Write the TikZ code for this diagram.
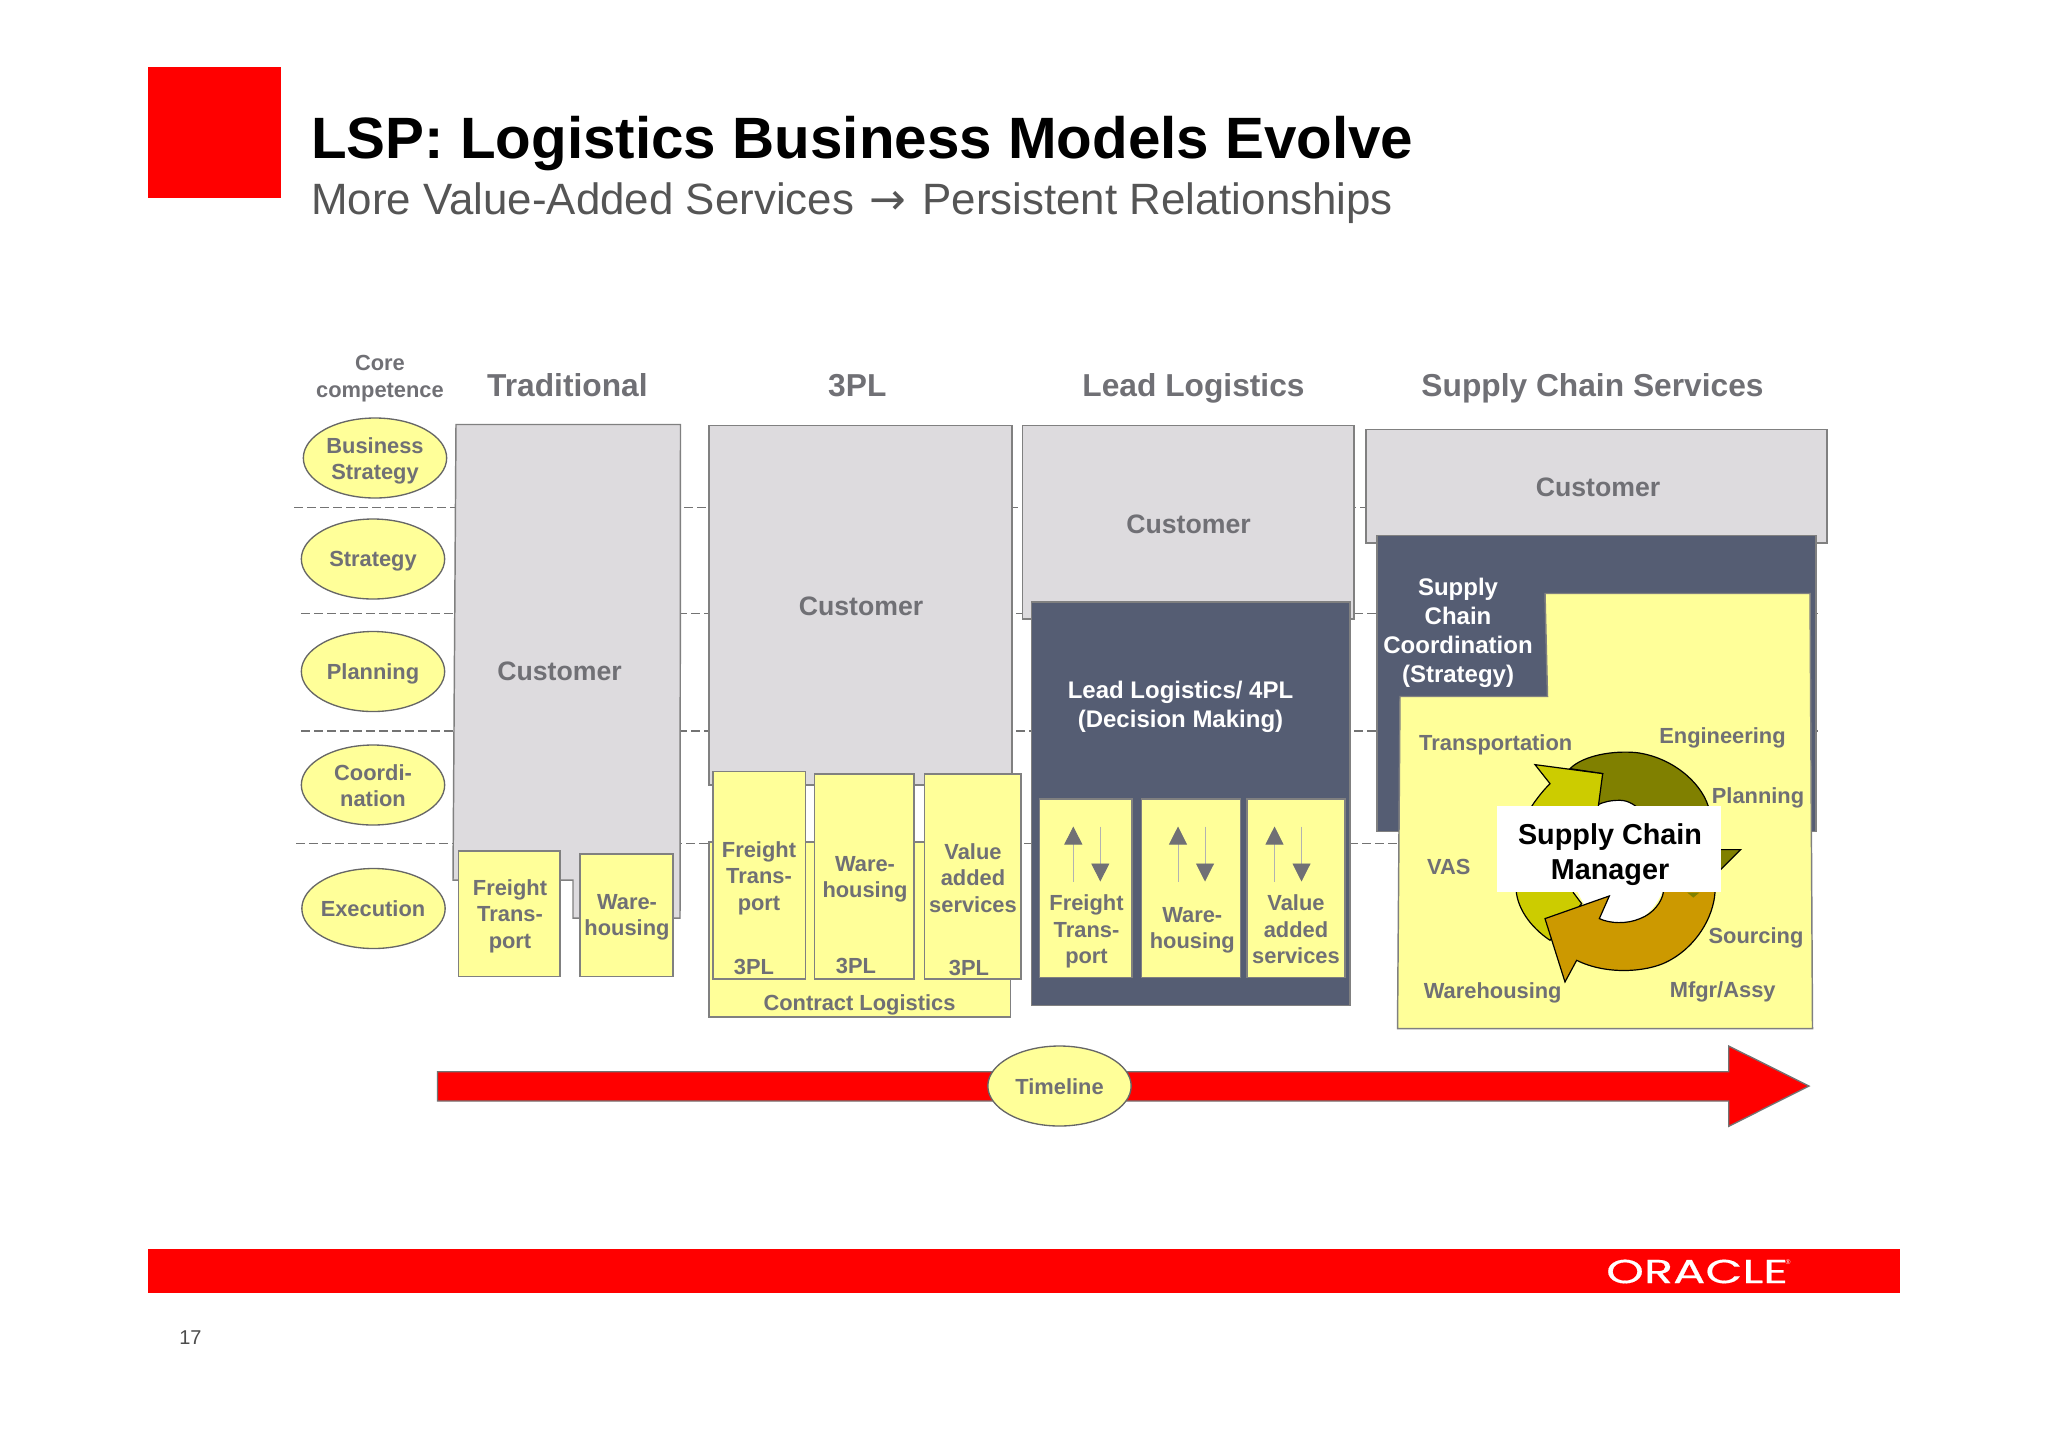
\documentclass[tikz,border=0pt]{standalone}
\usepackage{fontspec}
\setmainfont{Liberation Sans}
\newfontfamily\logofont[FakeBold=0.4]{Poppins}
\newfontfamily\arrowfont{DejaVu Sans}
\usepackage{tikz}
\usetikzlibrary{arrows.meta,shapes.geometric}

\definecolor{oraclered}{RGB}{255,0,0}
\definecolor{lblgray}{RGB}{112,112,117}
\definecolor{subgray}{RGB}{85,85,85}
\definecolor{custgray}{RGB}{221,219,222}
\definecolor{edgegray}{RGB}{128,128,128}
\definecolor{darkslate}{RGB}{85,93,115}
\definecolor{paleyellow}{RGB}{255,255,153}
\definecolor{ringolive}{RGB}{128,128,0}
\definecolor{ringlime}{RGB}{204,204,0}
\definecolor{ringamber}{RGB}{204,153,0}

\tikzset{
  lbl/.style={inner sep=0.75pt,align=center,text=lblgray,font=\fontsize{16.4}{19.8}\selectfont\bfseries},
  headlbl/.style={anchor=base,inner sep=0.75pt,align=center,text=lblgray,font=\fontsize{23.8}{28}\selectfont\bfseries},
  custlbl/.style={inner sep=0.75pt,align=center,text=lblgray,font=\fontsize{20}{24}\selectfont\bfseries},
  darklbl/.style={inner sep=0.75pt,align=center,text=white,font=\fontsize{18}{21.7}\selectfont\bfseries},
  level/.style={ellipse,draw=black!60,line width=1pt,fill=paleyellow,minimum width=107.5pt,minimum height=60pt,inner sep=0pt},
  custbox/.style={draw=edgegray,line width=1.1pt,fill=custgray},
  darkbox/.style={draw=edgegray,line width=1.1pt,fill=darkslate},
  yelbox/.style={draw=edgegray,line width=1.1pt,fill=paleyellow},
  dashline/.style={draw=black!55,line width=0.9pt,dash pattern=on 6.5pt off 3.25pt},
  flowline/.style={draw=black!30,line width=0.7pt,-{Triangle[length=13.5pt,width=13.5pt,color=lblgray]}},
  ring/.style={draw=black,line width=0.9pt}
}

\begin{document}
\begin{tikzpicture}[x=0.75pt,y=0.75pt,yscale=-1,xscale=1]
\useasboundingbox (0,-1) rectangle (2048,1446);

%Heading
\fill [oraclered] (148,66) rectangle (281,196.5);
\node (title) at (311,157.5) [anchor=base west,inner sep=0pt,font=\fontsize{43.75}{48}\selectfont\bfseries] {LSP: Logistics Business Models Evolve};
\node (subtitle) at (311,213.5) [anchor=base west,inner sep=0pt,text=subgray,font=\fontsize{32.9}{38}\selectfont] {More Value-Added Services \makebox[1em]{\arrowfont →} Persistent Relationships};

%Level separators
\coordinate (sep1l) at (294,506.7);
\coordinate (sep1r) at (1818,506.7);
\coordinate (sep2l) at (301,612.5);
\coordinate (sep2r) at (1818,612.5);
\coordinate (sep3l) at (301,730);
\coordinate (sep3r) at (1818,730);
\coordinate (sep4l) at (296,842.5);
\coordinate (sep4r) at (1810,842.5);
\draw [dashline] (sep1l) -- (sep1r);
\draw [dashline] (sep2l) -- (sep2r);
\draw [dashline] (sep3l) -- (sep3r);
\draw [dashline] (sep4l) -- (sep4r);

% Text Node
\node (core) at (380,377.5) [lbl] {Core\\competence};
\node (headtrad) at (567.4,395.5) [headlbl] {Traditional};
\node (head3pl) at (857.3,395.5) [headlbl] {3PL};
\node (headlead) at (1193.5,395.5) [headlbl] {Lead Logistics};
\node (headsupply) at (1592.5,395.5) [headlbl] {Supply Chain Services};

%Level ellipses
\node (lvlbiz) at (375,457) [level] {};
\node (txtbiz) at (375,460) [lbl] {Business\\Strategy};
\node (lvlstrat) at (373,558) [level] {};
\node (txtstrat) at (373,559.8) [lbl] {Strategy};
\node (lvlplan) at (373,670.5) [level] {};
\node (txtplan) at (373,673) [lbl] {Planning};
\node (lvlcoord) at (373,784) [level] {};
\node (txtcoord) at (373,784.5) [lbl] {Coordi-\\nation};
\node (lvlexec) at (373.5,907.5) [level] {};
\node (txtexec) at (373,908) [lbl] {Execution};

%Traditional
\draw [custbox] (456,423.5) -- (680.5,423.5) -- (680,917) -- (573,917) -- (573,879) -- (453,879) -- cycle;
\node (tradcust) at (559.5,670) [custlbl] {Customer};
\draw [yelbox] (458.5,850) rectangle (560,975.5);
\node (tradfreight) at (510,915) [lbl] {Freight\\Trans-\\port};
\draw [yelbox] (580,853) rectangle (673,975.5);
\node (tradware) at (627,916) [lbl] {Ware-\\housing};

%3PL
\draw [custbox] (709,424.5) rectangle (1012,784);
\node (tplcust) at (861,605.5) [custlbl] {Customer};
\draw [yelbox] (709,841) rectangle (1010.5,1016);
\node (contract) at (859.5,1004) [lbl] {Contract Logistics};
\draw [yelbox] (713,770.5) rectangle (805.5,978);
\node (tplfreight) at (759,877) [lbl] {Freight\\Trans-\\port};
\node (tpl1) at (754,965.5) [lbl] {3PL};
\draw [yelbox] (814.6,773) rectangle (914,978);
\node (tplware) at (865,878) [lbl] {Ware-\\housing};
\node (tpl2) at (856,964.5) [lbl] {3PL};
\draw [yelbox] (924.5,773) rectangle (1021,978);
\node (tplvalue) at (973,877) [lbl] {Value\\added\\services};
\node (tpl3) at (969,966.5) [lbl] {3PL};

%Lead Logistics
\draw [custbox] (1022.5,424.5) rectangle (1354,618);
\node (leadcust) at (1188.5,523.5) [custlbl] {Customer};
\draw [darkbox] (1031.5,601) rectangle (1350,1004.5);
\node (leadtext) at (1180.5,705.5) [darklbl] {Lead Logistics/ 4PL\\(Decision Making)};
\draw [yelbox] (1039.5,798) rectangle (1132,976.5);
\node (leadfreight) at (1086.5,930.5) [lbl] {Freight\\Trans-\\port};
\draw [yelbox] (1141.5,798) rectangle (1240.5,976.5);
\node (leadware) at (1192.3,929.5) [lbl] {Ware-\\housing};
\draw [yelbox] (1247,798) rectangle (1345,976.5);
\node (leadvalue) at (1296,928.5) [lbl] {Value\\added\\services};

%Flow arrows
\coordinate (up1a) at (1073.3,880.5);
\coordinate (up1b) at (1073.3,825.5);
\coordinate (dn1a) at (1100.3,825.5);
\coordinate (dn1b) at (1100.3,880.5);
\coordinate (up2a) at (1178,880.5);
\coordinate (up2b) at (1178,825.5);
\coordinate (dn2a) at (1205,825.5);
\coordinate (dn2b) at (1205,880.5);
\coordinate (up3a) at (1274.5,880.5);
\coordinate (up3b) at (1274.5,825.5);
\coordinate (dn3a) at (1301.5,825.5);
\coordinate (dn3b) at (1301.5,880.5);
\draw [flowline] (up1a) -- (up1b);
\draw [flowline] (dn1a) -- (dn1b);
\draw [flowline] (up2a) -- (up2b);
\draw [flowline] (dn2a) -- (dn2b);
\draw [flowline] (up3a) -- (up3b);
\draw [flowline] (dn3a) -- (dn3b);

%Supply Chain Services
\draw [custbox] (1366,428.5) rectangle (1827,542);
\node (supcust) at (1598,486.5) [custlbl] {Customer};
\draw [darkbox] (1377,534.5) rectangle (1816,830.5);
\node (suptext) at (1458,632) [darklbl] {Supply\\Chain\\Coordination\\(Strategy)};
\draw [yelbox] (1545,592.5) -- (1810,592.5) -- (1812.5,1027.5) -- (1397.5,1027.5) -- (1400,695.5) -- (1547.5,695.5) -- cycle;

% Text Node
\node (ltrans) at (1495.7,744) [lbl] {Transportation};
\node (leng) at (1722.5,736.5) [lbl] {Engineering};
\node (lplan) at (1758,796.5) [lbl] {Planning};
\node (lvas) at (1448.7,866) [lbl] {VAS};
\node (lsrc) at (1756,937) [lbl] {Sourcing};
\node (lware) at (1492.7,991.5) [lbl] {Warehousing};
\node (lmfg) at (1722.7,990.5) [lbl] {Mfgr/Assy};

%Cycle
\begin{scope}[shift={(1480,719.3)},scale=0.3333]
\fill [white] (420,423) ellipse (145 and 190);
\draw [ring,fill=ringolive] (270,145) .. controls (310,105) and (400,90) .. (470,97) .. controls (570,110) and (660,180) .. (685,258) .. controls (700,300) and (708,350) .. (705,388) -- (782,388) -- (640,530) -- (530,388) .. controls (520,300) and (470,240) .. (420,240) .. controls (390,240) and (370,245) .. (350,255) -- (368,160) -- cycle;
\draw [ring,fill=ringlime] (165,133) -- (368,160) -- (355,258) .. controls (300,290) and (260,400) .. (280,517) -- (305,550) -- (210,660) .. controls (150,620) and (108,560) .. (108,500) .. controls (108,400) and (125,290) .. (155,258) .. controls (170,235) and (190,210) .. (210,190) -- cycle;
\draw [ring,fill=ringamber] (388,527) -- (358,595) .. controls (390,610) and (440,612) .. (480,595) .. controls (520,580) and (545,545) .. (550,517) -- (550,450) -- (705,450) -- (705,517) .. controls (700,590) and (650,680) .. (560,725) .. controls (500,755) and (380,765) .. (290,720) -- (255,785) -- (195,595) -- cycle;
\fill [ringolive] (622,517) -- (658,517) -- (640,532) -- cycle;
\end{scope}
\fill [white] (1497,805.3) rectangle (1721,891.3);
\node (scm) at (1610,853.8) [inner sep=0.75pt,align=center,font=\fontsize{21.6}{26.5}\selectfont\bfseries] {Supply Chain\\Manager};

%Timeline
\draw [draw=black!55,line width=1pt,fill=oraclered] (437.5,1070.7) -- (1728.7,1070.7) -- (1728.7,1045) -- (1809,1085) -- (1728.7,1125.3) -- (1728.7,1100) -- (437.5,1100) -- cycle;
\node (timeline) at (1059.5,1085) [level] {};
\node (txttime) at (1059.5,1086) [lbl] {Timeline};

%Footer
\fill [oraclered] (148,1248.3) rectangle (1900,1292.3);
\node (oracle) at (1697,1270.5) [inner sep=0pt,text=white,xscale=1.44,font=\fontsize{25}{30}\logofont] {ORACLE};
\node (regmark) at (1788,1261) [inner sep=0pt,text=white,font=\fontsize{5}{6}\selectfont] {®};
\node (pageno) at (190.5,1337) [inner sep=0pt,text=black!70,font=\fontsize{15}{18}\selectfont] {17};

\end{tikzpicture}
\end{document}
